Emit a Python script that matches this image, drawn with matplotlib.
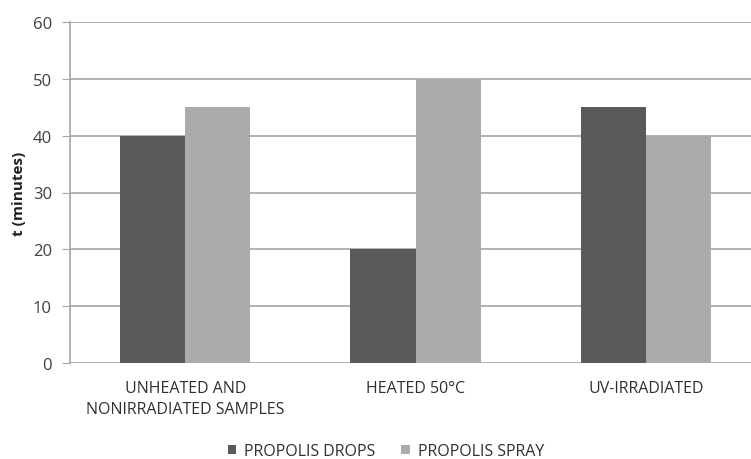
import matplotlib
matplotlib.use("Agg")
import matplotlib.pyplot as plt
import numpy as np

plt.rcParams['font.family'] = ['Open Sans', 'DejaVu Sans']

categories = ["UNHEATED AND\nNONIRRADIATED SAMPLES", "HEATED 50°C", "UV-IRRADIATED"]
drops = [40, 20, 45]
spray = [45, 50, 40]

fig = plt.figure(figsize=(7.51, 4.6), dpi=100)
ax = fig.add_axes([70 / 751, 96 / 460, 1 - 70 / 751, 341 / 460])

x = np.arange(len(categories))
w = 0.283
ax.bar(x - w / 2, drops, w, color="#5a5a5a", label="PROPOLIS DROPS", zorder=3)
ax.bar(x + w / 2, spray, w, color="#ababab", label="PROPOLIS SPRAY", zorder=3)

ax.set_xlim(-0.5, 2.456)
ax.set_ylim(0, 60)
ax.set_yticks(range(0, 61, 10))
ax.yaxis.grid(True, color="#a6a6a6", linewidth=1.2, zorder=0)
ax.set_axisbelow(True)
for s in ["top", "right", "bottom"]:
    ax.spines[s].set_visible(False)
ax.spines["left"].set_color("#a6a6a6")
ax.spines["left"].set_linewidth(1.2)
ax.tick_params(axis="y", length=6, color="#a6a6a6", labelsize=12, labelcolor="#404040", pad=7)
ax.tick_params(axis="x", length=0, labelsize=11.5, labelcolor="#303030", pad=12)
ax.set_xticks(x)
ax.set_xticklabels(categories, linespacing=1.45)
ax.set_ylabel("t (minutes)", fontsize=11, fontweight="bold", color="#202020", labelpad=5)

ax.legend(loc="center", bbox_to_anchor=(386 / 751, 8 / 460), bbox_transform=fig.transFigure,
          ncol=2, frameon=False, fontsize=11.5, handlelength=0.55, handleheight=0.55,
          handletextpad=0.5, columnspacing=1.6, labelcolor="#303030")

fig.savefig("out.png", dpi=100)
